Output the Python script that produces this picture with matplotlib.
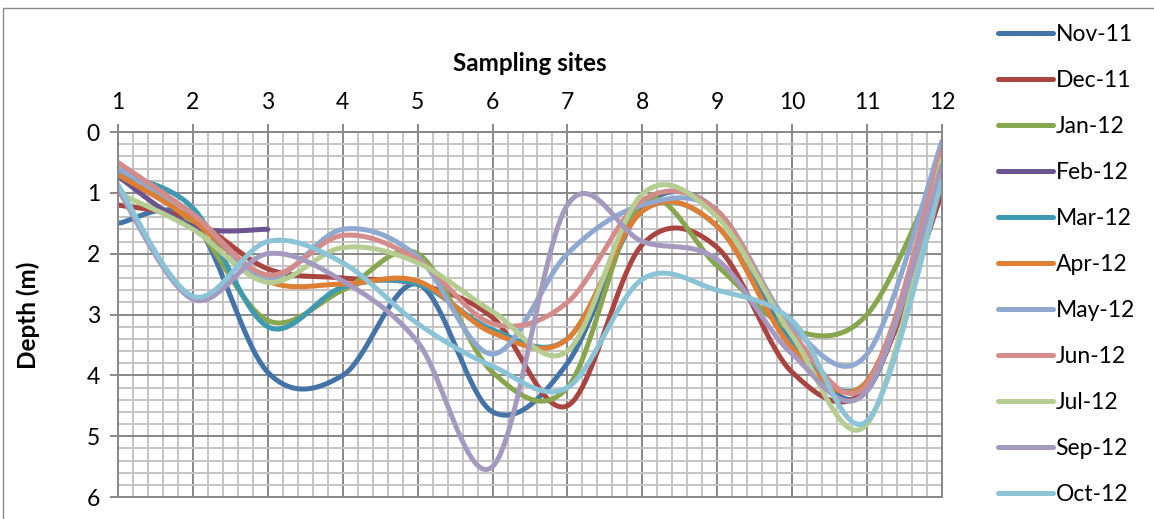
import numpy as np
import matplotlib
matplotlib.use('Agg')
import matplotlib.pyplot as plt
from matplotlib.ticker import MultipleLocator
from matplotlib.patches import Rectangle

plt.rcParams['font.family'] = ['Lato', 'DejaVu Sans']

# depth (m) at each sampling site, one list per survey month
sites = [1, 2, 3, 4, 5, 6, 7, 8, 9, 10, 11, 12]
nov_11 = [1.5, 1.45, 3.95, 4.0, 2.5, 4.6, 3.8, 1.25, 1.3, 3.45, 4.25, 0.6]
dec_11 = [1.2, 1.45, 2.25, 2.4, 2.5, 3.05, 4.5, 1.85, 1.9, 3.95, 4.2, 1.0]
jan_12 = [0.7, 1.5, 3.1, 2.6, 2.0, 3.95, 4.2, 1.15, 2.2, 3.25, 3.0, 0.5]
feb_12 = [0.73, 1.55, 1.6]
mar_12 = [0.68, 1.25, 3.2, 2.55, 2.5, 3.25, 3.4, 1.3, 1.55, 3.5, 4.1, 0.65]
apr_12 = [0.7, 1.45, 2.45, 2.5, 2.45, 3.3, 3.4, 1.3, 1.55, 3.55, 4.1, 0.6]
may_12 = [0.6, 1.35, 2.4, 1.6, 2.05, 3.65, 2.0, 1.2, 1.3, 3.2, 3.65, 0.15]
jun_12 = [0.5, 1.35, 2.35, 1.7, 2.1, 3.15, 2.8, 1.12, 1.3, 3.3, 4.15, 0.3]
jul_12 = [1.0, 1.6, 2.47, 1.9, 2.15, 2.95, 3.6, 1.02, 1.4, 3.35, 4.8, 0.45]
sep_12 = [0.95, 2.75, 2.0, 2.45, 3.45, 5.5, 1.2, 1.8, 2.1, 3.65, 4.25, 0.55]
oct_12 = [0.87, 2.7, 1.8, 2.15, 3.15, 3.85, 4.2, 2.42, 2.6, 3.1, 4.75, 0.8]

months = ['Nov-11', 'Dec-11', 'Jan-12', 'Feb-12', 'Mar-12', 'Apr-12',
          'May-12', 'Jun-12', 'Jul-12', 'Sep-12', 'Oct-12']
depths = [nov_11, dec_11, jan_12, feb_12, mar_12, apr_12,
          may_12, jun_12, jul_12, sep_12, oct_12]
colors = ['#4473A8', '#A94441', '#87A64D', '#6C548F', '#3E9AB0', '#E07F33',
          '#8EA8CF', '#D48C8B', '#B5CC92', '#A699C0', '#8BC3D7']


def smooth_line(x, y, steps=40):
    """Bezier curve through the points, spreadsheet-style smoothing."""
    p = np.column_stack([x, y]).astype(float)
    n = len(p)
    t = np.linspace(0, 1, steps)[1:, None]
    out = [p[0]]
    for i in range(n - 1):
        p0, p1, p2, p3 = p[max(i - 1, 0)], p[i], p[i + 1], p[min(i + 2, n - 1)]
        c1 = p1 + (p2 - p0) / 6
        c2 = p2 - (p3 - p1) / 6
        seg = ((1 - t) ** 3 * p1 + 3 * (1 - t) ** 2 * t * c1
               + 3 * (1 - t) * t ** 2 * c2 + t ** 3 * p2)
        out.extend(seg)
    out = np.array(out)
    return out[:, 0], out[:, 1]


W, H = 1154, 519
fig = plt.figure(figsize=(W / 100, H / 100), dpi=100)
ax = fig.add_axes([118 / W, 22 / H, 824 / W, 365 / H])

for name, d, c in zip(months, depths, colors):
    xs, ys = smooth_line(sites[:len(d)], d)
    ax.plot(xs, ys, color=c, lw=3.6, solid_capstyle='round', label=name)

ax.set_xlim(1, 12)
ax.set_ylim(6, 0)
ax.xaxis.set_major_locator(MultipleLocator(1))
ax.xaxis.set_minor_locator(MultipleLocator(0.2))
ax.yaxis.set_major_locator(MultipleLocator(1))
ax.yaxis.set_minor_locator(MultipleLocator(0.2))
ax.grid(which='major', color='#888888', lw=1.4)
ax.grid(which='minor', color='#c4c4c4', lw=1.4)
ax.set_axisbelow(True)
for s in ax.spines.values():
    s.set_color('#888888')
    s.set_linewidth(1.4)

ax.xaxis.tick_top()
ax.xaxis.set_label_position('top')
ax.tick_params(which='major', direction='out', length=6, width=1.4,
               color='#888888', labelsize=16.5)
ax.tick_params(which='minor', length=0)
ax.tick_params(axis='x', pad=8)
ax.tick_params(axis='y', pad=7)

ax.set_xlabel('Sampling sites', fontsize=17.5, fontweight='bold', labelpad=15)
fig.text(28 / W, 1 - 315 / H, 'Depth (m)', rotation=90, ha='center',
         va='center', fontsize=17.5, fontweight='bold')

ax.legend(loc='upper left', bbox_to_anchor=(989 / W, 1 - 15 / H),
          bbox_transform=fig.transFigure, frameon=False, fontsize=16.5,
          handlelength=2.4, handletextpad=0.1, labelspacing=1.09,
          borderaxespad=0)

# chart area border
fig.add_artist(Rectangle((3 / W, -0.5), 2, 0.5 + (H - 8) / H,
                         transform=fig.transFigure, fill=False,
                         ec='#888888', lw=1))

fig.savefig('out.png', dpi=100)
